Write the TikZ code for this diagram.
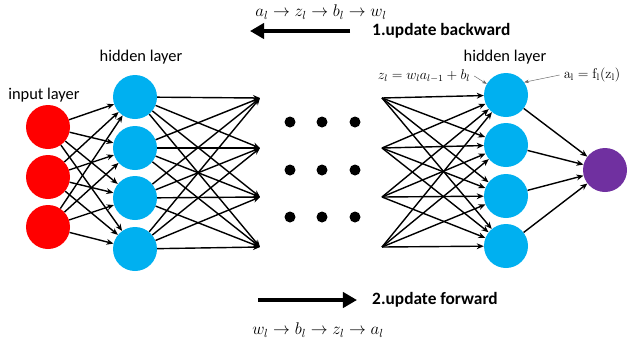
\documentclass[tikz,border=0pt]{standalone}
\usepackage[no-math]{fontspec}
\setmainfont{Carlito}
\usetikzlibrary{arrows.meta, positioning}
\definecolor{inred}{HTML}{FF0000}
\definecolor{hidblue}{HTML}{00B0F0}
\definecolor{outpurple}{HTML}{7030A0}
\tikzset{
  neuron/.style={circle, minimum size=1.32cm, inner sep=0pt},
  link/.style={-{Stealth[length=6pt,width=5pt]}, line width=1.2pt},
  bigarrow/.style={-{Triangle[length=12pt,width=13pt]}, line width=4pt},
  note/.style={-{Stealth[length=4pt,width=3pt]}, draw=black!60, line width=0.4pt},
  lbl/.style={font=\fontsize{14}{16}\selectfont},
  boldlbl/.style={font=\bfseries\fontsize{14.8}{17}\selectfont},
  eqn/.style={font=\fontsize{14.5}{17}\selectfont}
}
\begin{document}
\begin{tikzpicture}[x=0.03cm, y=-0.03cm]
\useasboundingbox (0,0) rectangle (632,350);

% input layer
\foreach \i/\y in {1/127, 2/177, 3/227}
  \node[neuron, fill=inred] (i\i) at (48,\y) {};
% first hidden layer
\foreach \i/\y in {1/97, 2/148, 3/198, 4/249}
  \node[neuron, fill=hidblue] (h\i) at (135,\y) {};
% second hidden layer
\foreach \i/\y in {1/95, 2/145, 3/196, 4/246}
  \node[neuron, fill=hidblue] (g\i) at (506,\y) {};
% output
\node[neuron, fill=outpurple] (o) at (605,170) {};

% loose ends in the middle
\foreach \i/\y in {1/98, 2/148, 3/197, 4/247} {
  \coordinate (m\i) at (260,\y);
  \coordinate (n\i) at (382,\y);
}

% connections
\foreach \a in {1,2,3}
  \foreach \b in {1,2,3,4}
    \draw[link] (i\a) -- (h\b);
\foreach \a in {1,2,3,4}
  \foreach \b in {1,2,3,4} {
    \draw[link] (h\a) -- (m\b);
    \draw[link] (n\a) -- (g\b);
  }
\foreach \a in {1,2,3,4}
  \draw[link] (g\a) -- (o);

% dots
\foreach \x in {290, 322, 355}
  \foreach \y in {122, 170, 217}
    \fill (\x,\y) circle (5.5);

% labels
\node[lbl] (inlab) at (44,95) {input layer};
\node[lbl] (hlab1) at (141,57) {hidden layer};
\node[lbl] (hlab2) at (505,57) {hidden layer};
\node[font=\fontsize{12}{14}\selectfont] (zlab) at (424,76) {$z_l = w_l a_{l-1} + b_l$};
\node[font=\fontsize{12}{14}\selectfont] (alab) at (592,75) {$\mathrm{a_l = f_l(z_l)}$};
\draw[note] (zlab.east) -- (g1.150);
\draw[note] (alab.west) -- (g1.35);

% update directions
\node[eqn] (back) at (321,12) {$a_l \rightarrow z_l \rightarrow b_l \rightarrow w_l$};
\coordinate (bs) at (350,31);
\coordinate (be) at (250,31);
\draw[bigarrow] (bs) -- (be);
\node[boldlbl, anchor=west, inner sep=0pt] (bwd) at (372,31) {1.update backward};

\coordinate (fs) at (258,300);
\coordinate (fe) at (357,300);
\draw[bigarrow] (fs) -- (fe);
\node[boldlbl, anchor=west, inner sep=0pt] (fwd) at (372,300) {2.update forward};
\node[eqn] (fwdeq) at (318,330) {$w_l \rightarrow b_l \rightarrow z_l \rightarrow a_l$};
\end{tikzpicture}
\end{document}
